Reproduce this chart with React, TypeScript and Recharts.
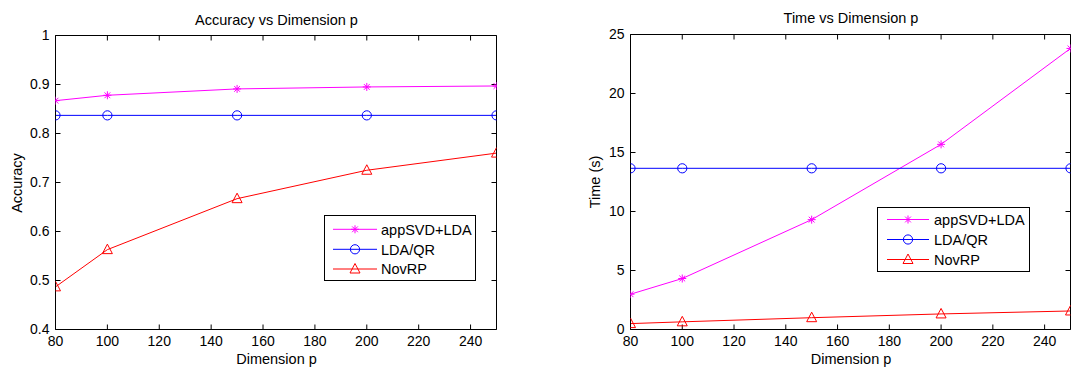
import { LineChart, Line, XAxis, YAxis } from 'recharts'

const dims = [80, 100, 150, 200, 250]
const xTicks = [80, 100, 120, 140, 160, 180, 200, 220, 240]

const accSvd = [0.867, 0.878, 0.891, 0.895, 0.897]
const accQr = [0.837, 0.837, 0.837, 0.837, 0.837]
const accRp = [0.487, 0.563, 0.667, 0.725, 0.76]
const accTicks = [0.4, 0.5, 0.6, 0.7, 0.8, 0.9, 1]

const timeSvd = [2.99, 4.32, 9.31, 15.69, 23.82]
const timeQr = [13.66, 13.66, 13.66, 13.66, 13.66]
const timeRp = [0.5, 0.65, 1.0, 1.32, 1.57]
const timeTicks = [0, 5, 10, 15, 20, 25]

const seriesNames = ['appSVD+LDA', 'LDA/QR', 'NovRP']

const FONT = '"Liberation Sans", Arial, Helvetica, sans-serif'
const MAGENTA = '#ff00ff'
const BLUE = '#0000ff'
const RED = '#ff0000'

const accRows = dims.map((p, i) => ({ p, svd: accSvd[i], qr: accQr[i], rp: accRp[i] }))
const timeRows = dims.map((p, i) => ({ p, svd: timeSvd[i], qr: timeQr[i], rp: timeRp[i] }))

function Star({ cx, cy, color }: { cx: number; cy: number; color: string }) {
  const r = 4
  const d = r * 0.72
  return (
    <g stroke={color} strokeWidth={1}>
      <line x1={cx - r} y1={cy} x2={cx + r} y2={cy} />
      <line x1={cx} y1={cy - r} x2={cx} y2={cy + r} />
      <line x1={cx - d} y1={cy - d} x2={cx + d} y2={cy + d} />
      <line x1={cx - d} y1={cy + d} x2={cx + d} y2={cy - d} />
    </g>
  )
}

function Ring({ cx, cy, color }: { cx: number; cy: number; color: string }) {
  return <circle cx={cx} cy={cy} r={4.6} fill="none" stroke={color} strokeWidth={1} />
}

function Tri({ cx, cy, color }: { cx: number; cy: number; color: string }) {
  return <polygon points={`${cx},${cy - 5.5} ${cx - 5},${cy + 4} ${cx + 5},${cy + 4}`} fill="none" stroke={color} strokeWidth={1} />
}

const markers = [
  { key: 'svd', color: MAGENTA, M: Star },
  { key: 'qr', color: BLUE, M: Ring },
  { key: 'rp', color: RED, M: Tri },
]

interface PanelProps {
  rows: any[]
  yDomain: [number, number]
  yTicks: number[]
  fmt: (v: number) => string
  width: number
  margin: { top: number; right: number; bottom: number; left: number }
}

const blank = () => ''

function Panel({ rows, yDomain, yTicks, fmt, width, margin }: PanelProps) {
  const tickStyle = { fontSize: 14, fill: '#000', fontFamily: FONT }
  const ink = { stroke: '#000', strokeWidth: 1 }
  return (
    <LineChart width={width} height={367} data={rows} margin={margin}>
      <XAxis xAxisId="b" dataKey="p" type="number" domain={[80, 250]} ticks={xTicks} allowDataOverflow
        height={30} tickSize={-5} tickMargin={12} tick={tickStyle} axisLine={ink} tickLine={ink} />
      <XAxis xAxisId="t" dataKey="p" orientation="top" type="number" domain={[80, 250]} ticks={xTicks} allowDataOverflow
        height={1} tickSize={-5} tickFormatter={blank} axisLine={ink} tickLine={ink} />
      <YAxis yAxisId="l" type="number" domain={yDomain} ticks={yTicks} allowDataOverflow width={50}
        tickSize={-5} tickMargin={11} tick={tickStyle} tickFormatter={fmt} axisLine={ink} tickLine={ink} />
      <YAxis yAxisId="r" orientation="right" type="number" domain={yDomain} ticks={yTicks} allowDataOverflow width={1}
        tickSize={-5} tickFormatter={blank} axisLine={ink} tickLine={ink} />
      {markers.map(({ key, color, M }) => (
        <Line key={key} xAxisId="b" yAxisId="l" type="linear" dataKey={key} stroke={color} strokeWidth={1}
          isAnimationActive={false} activeDot={false}
          dot={(d: any) => <M key={`${key}-${d.index}`} cx={d.cx} cy={d.cy} color={color} />} />
      ))}
    </LineChart>
  )
}

function Legend({ left, top, width, height, lineX1, lineX2, textX, rowYs }: {
  left: number; top: number; width: number; height: number; lineX1: number; lineX2: number; textX: number; rowYs: number[]
}) {
  const mx = (lineX1 + lineX2) / 2
  return (
    <div style={{ position: 'absolute', left, top, width, height, border: '1px solid #000', background: '#fff', boxSizing: 'border-box' }}>
      <svg width={width} height={height} style={{ position: 'absolute', left: -1, top: -1 }}>
        {markers.map(({ key, color, M }, i) => (
          <g key={key}>
            <line x1={lineX1 - left} x2={lineX2 - left} y1={rowYs[i] - top} y2={rowYs[i] - top} stroke={color} strokeWidth={1} />
            <M cx={mx - left} cy={rowYs[i] - top} color={color} />
            <text x={textX - left} y={rowYs[i] - top} dy="0.36em" fontSize={14.5} fontFamily={FONT} fill="#000">{seriesNames[i]}</text>
          </g>
        ))}
      </svg>
    </div>
  )
}

const textBase = { position: 'absolute' as const, fontFamily: FONT, color: '#000', whiteSpace: 'nowrap' as const, lineHeight: 1 }

export default function App() {
  return (
    <div style={{ position: 'absolute', left: 0, top: 0, width: 1079, height: 367, background: '#fff', overflow: 'hidden' }}>
      <div style={{ position: 'absolute', left: 0, top: 0 }}>
        <Panel rows={accRows} yDomain={[0.4, 1]} yTicks={accTicks} fmt={(v) => (v === 1 ? '1' : v.toFixed(1))}
          width={540} margin={{ top: 34.5, right: 42.5, bottom: 7.5, left: 5.5 }} />
      </div>
      <div style={{ position: 'absolute', left: 540, top: 0 }}>
        <Panel rows={timeRows} yDomain={[0, 25]} yTicks={timeTicks} fmt={(v) => String(v)}
          width={539} margin={{ top: 33.5, right: 7.5, bottom: 7.5, left: 40.5 }} />
      </div>

      <div style={{ ...textBase, left: 276.5, top: 20, fontSize: 14.5, transform: 'translate(-50%, -50%)' }}>Accuracy vs Dimension p</div>
      <div style={{ ...textBase, left: 851, top: 18, fontSize: 14.5, transform: 'translate(-50%, -50%)' }}>Time vs Dimension p</div>
      <div style={{ ...textBase, left: 276.5, top: 359, fontSize: 14.5, transform: 'translate(-50%, -50%)' }}>Dimension p</div>
      <div style={{ ...textBase, left: 851, top: 359, fontSize: 14.5, transform: 'translate(-50%, -50%)' }}>Dimension p</div>
      <div style={{ ...textBase, left: 17, top: 182.5, fontSize: 14.5, transform: 'translate(-50%, -50%) rotate(-90deg)' }}>Accuracy</div>
      <div style={{ ...textBase, left: 595, top: 182, fontSize: 14.5, transform: 'translate(-50%, -50%) rotate(-90deg)' }}>Time (s)</div>

      <Legend left={324} top={215} width={152} height={66} lineX1={333} lineX2={377} textX={381} rowYs={[229.3, 249.3, 269]} />
      <Legend left={877} top={207} width={153} height={65} lineX1={887} lineX2={929} textX={934} rowYs={[219.5, 239.5, 259.5]} />
    </div>
  )
}
